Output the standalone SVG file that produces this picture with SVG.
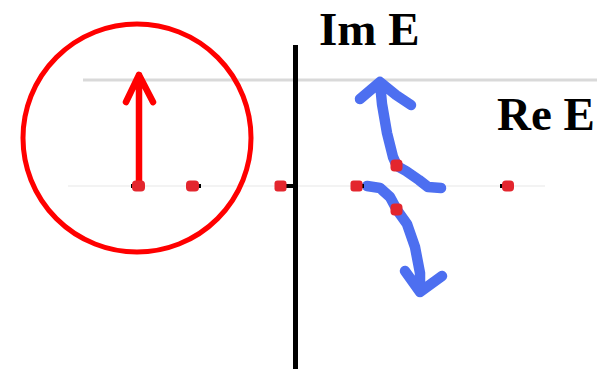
<svg xmlns="http://www.w3.org/2000/svg" width="613" height="369" viewBox="0 0 613 369">
<style>
.lbl{font-family:"Liberation Serif","Times New Roman",serif;font-weight:bold;font-size:47px;fill:#000}
.blue{fill:none;stroke:#4d6ff0;stroke-width:10.5;stroke-linecap:round;stroke-linejoin:round}
.red{fill:none;stroke:#ff0000;stroke-linecap:round;stroke-linejoin:round}
.dot{fill:#e3262e}
.tick{stroke:#000;stroke-width:4}
</style>
<rect width="613" height="369" fill="#fff"/>
<g id="realline"><line x1="68" y1="186" x2="545" y2="186" stroke="#f3f3f3" stroke-width="2"/></g>
<g id="topline"><line x1="83" y1="80" x2="597" y2="80" stroke="#d9d9d9" stroke-width="3"/></g>
<g id="imaxis"><line x1="295.5" y1="45" x2="295.5" y2="369" stroke="#000" stroke-width="5"/></g>
<g id="circle"><circle cx="137" cy="138" r="114" class="red" stroke-width="5"/></g>
<g id="connectors">
<path class="red" stroke-width="6.5" d="M139 184 L139 75 M126 102 L139 75 L153 102"/>
<path class="blue" d="M441 188 L428 187 L419 180 L406 171 L397 166 L393 157 L387 133 L382 104 L380 83 M360 99 L380 82 L396 95 L411 105"/>
<path class="blue" d="M367 186 L380 188 L390 197 L397 210 L407 224 L415 247 L420 273 L420 292 M405 271 L420 292 L442 276"/>
</g>
<g id="dots">
<line class="tick" x1="131" y1="186" x2="140" y2="186"/>
<line class="tick" x1="192" y1="186" x2="201" y2="186"/>
<line class="tick" x1="281" y1="186" x2="295" y2="186"/>
<line class="tick" x1="356" y1="186" x2="364" y2="186"/>
<line class="tick" x1="500" y1="186" x2="508" y2="186"/>
<rect class="dot" x="132" y="180.5" width="13" height="11" rx="4"/>
<rect class="dot" x="186" y="180.5" width="13" height="11" rx="4"/>
<rect class="dot" x="274.5" y="180.5" width="12" height="11" rx="3"/>
<rect class="dot" x="350.5" y="180.5" width="12" height="11" rx="3"/>
<rect class="dot" x="502" y="180.5" width="12" height="11" rx="4"/>
<rect class="dot" x="390.5" y="159.5" width="12" height="12" rx="4"/>
<rect class="dot" x="390.5" y="203.5" width="12" height="12" rx="4"/>
</g>
<g id="labels">
<text class="lbl" x="319" y="45">Im E</text>
<text class="lbl" x="497" y="130">Re E</text>
</g>
</svg>
